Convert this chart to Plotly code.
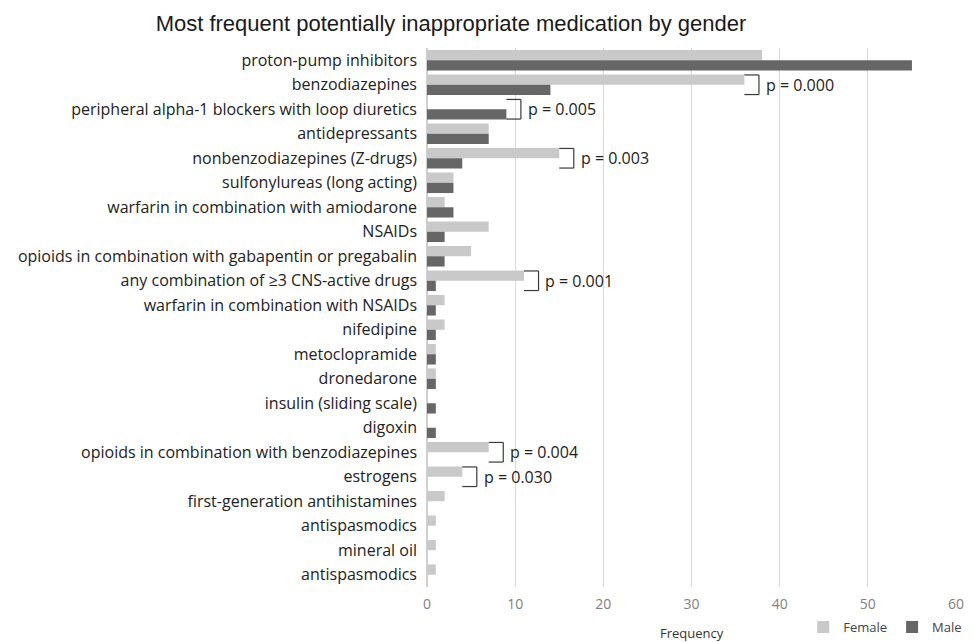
import plotly.graph_objects as go

categories = [
    "proton-pump inhibitors",
    "benzodiazepines",
    "peripheral alpha-1 blockers with loop diuretics",
    "antidepressants",
    "nonbenzodiazepines (Z-drugs)",
    "sulfonylureas (long acting)",
    "warfarin in combination with amiodarone",
    "NSAIDs",
    "opioids in combination with gabapentin or pregabalin",
    "any combination of \u22653 CNS-active drugs",
    "warfarin in combination with NSAIDs",
    "nifedipine",
    "metoclopramide",
    "dronedarone",
    "insulin (sliding scale)",
    "digoxin",
    "opioids in combination with benzodiazepines",
    "estrogens",
    "first-generation antihistamines",
    "antispasmodics",
    "mineral oil",
    "antispasmodics",
]
female = [38, 36, 0, 7, 15, 3, 2, 7, 5, 11, 2, 2, 1, 1, 0, 0, 7, 4, 2, 1, 1, 1]
male = [55, 14, 9, 7, 4, 3, 3, 2, 2, 1, 1, 1, 1, 1, 1, 1, 0, 0, 0, 0, 0, 0]
p_values = {1: "p = 0.000", 2: "p = 0.005", 4: "p = 0.003", 9: "p = 0.001",
            16: "p = 0.004", 17: "p = 0.030"}

idx = list(range(len(categories)))
FONT = "Open Sans"

fig = go.Figure()
fig.add_trace(go.Bar(y=idx, x=female, orientation="h", name="Female",
                     marker=dict(color="#c9c9c9", line=dict(width=0))))
fig.add_trace(go.Bar(y=idx, x=male, orientation="h", name="Male",
                     marker=dict(color="#666666", line=dict(width=0))))

shapes = []
annotations = []
for i, txt in p_values.items():
    x0 = max(female[i], male[i])
    x1 = x0 + 1.65
    yt, yb = i - 0.4, i + 0.4
    ln = dict(color="#3a3a3a", width=1.2)
    shapes.append(dict(type="line", xref="x", yref="y", x0=x0, x1=x1, y0=yt, y1=yt, line=ln))
    shapes.append(dict(type="line", xref="x", yref="y", x0=x1, x1=x1, y0=yt, y1=yb, line=ln))
    shapes.append(dict(type="line", xref="x", yref="y", x0=x0, x1=x1, y0=yb, y1=yb, line=ln))
    annotations.append(dict(x=x1 + 0.55, y=i, xref="x", yref="y", text=txt, showarrow=False,
                            xanchor="left", yanchor="middle",
                            font=dict(family=FONT, size=16, color="#222222")))

annotations.append(dict(x=0.5, y=-0.085, xref="paper", yref="paper", text="Frequency",
                        showarrow=False, xanchor="center", yanchor="middle",
                        font=dict(family=FONT, size=13, color="#333333")))

fig.update_layout(
    width=966, height=634,
    margin=dict(l=419, r=18, t=40, b=55, autoexpand=False),
    paper_bgcolor="white", plot_bgcolor="white",
    title=dict(text="Most frequent potentially inappropriate medication by gender",
               x=0.4586, xanchor="center", y=0.988, yanchor="top",
               font=dict(family="Liberation Sans", size=22, color="#1a1a1a")),
    barmode="group", bargap=0.16, bargroupgap=0,
    font=dict(family=FONT, color="#222222"),
    showlegend=True,
    legend=dict(orientation="h", x=0.993, xanchor="right", y=0.0, yanchor="bottom",
                yref="container", xref="container",
                font=dict(family=FONT, size=13, color="#444444"),
                traceorder="normal", itemwidth=30, tracegroupgap=0),
    shapes=shapes, annotations=annotations,
)
fig.update_xaxes(range=[0, 60], dtick=10, tick0=0, showgrid=True, gridcolor="#d9d9d9",
                 gridwidth=1, zeroline=True, zerolinecolor="#d0d0d0", showline=False,
                 ticks="", automargin=False, ticklabelstandoff=7,
                 tickfont=dict(family=FONT, size=14, color="#808080"))
fig.update_yaxes(range=[len(categories) - 0.5, -0.5], tickvals=idx, ticktext=categories,
                 showgrid=False, zeroline=False, showline=False, ticks="", automargin=False,
                 ticklabelstandoff=9,
                 tickfont=dict(family=FONT, size=16, color="#222222"))

fig.write_html("out.html")
